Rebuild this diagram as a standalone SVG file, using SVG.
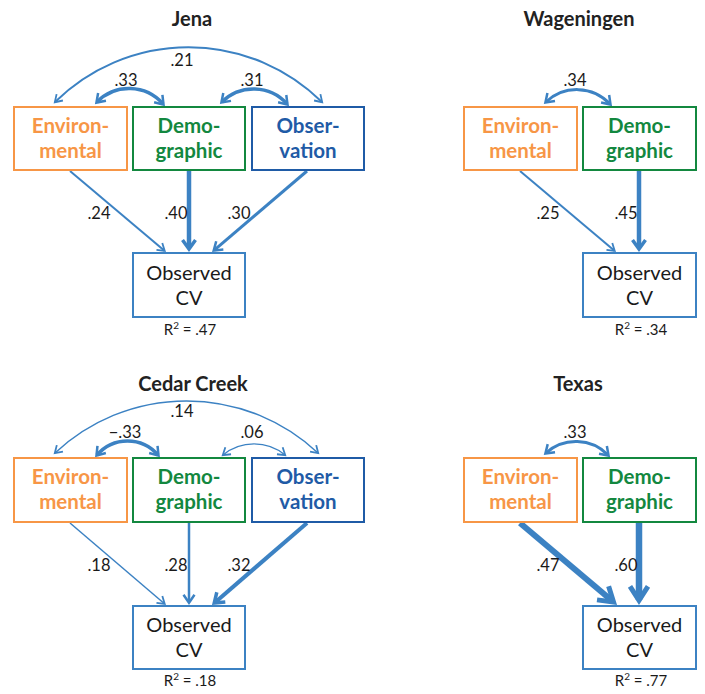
<svg xmlns="http://www.w3.org/2000/svg" width="705" height="694" viewBox="0 0 705 694">
<style>
text{font-family:Lato,"Liberation Sans",sans-serif;fill:#1a1a1a;text-anchor:middle}
.title{font-size:20px;font-weight:bold;fill:#222}
.lbl{font-size:20.5px;font-weight:bold}
.env rect{fill:#fff;stroke:#F79646;stroke-width:2}
.env text{fill:#F79646}
.dem rect{fill:#fff;stroke:#13883F;stroke-width:2}
.dem text{fill:#13883F}
.obs rect{fill:#fff;stroke:#1F5BA6;stroke-width:2}
.obs text{fill:#1F5BA6}
.cv rect{fill:#fff;stroke:#3C82C3;stroke-width:2}
.cv text{font-size:20px}
.cv text.r2{font-size:15px}
.num{font-size:16.5px}
.c path{fill:none;stroke:#3C82C3;stroke-linecap:butt}
.m{fill:none;stroke:#3C82C3;stroke-linejoin:miter}
</style>
<defs>
<marker id="ah1" markerUnits="userSpaceOnUse" orient="auto-start-reverse" refX="0" refY="0" markerWidth="20" markerHeight="20" overflow="visible"><path class="m" stroke-width="1.8" d="M-6.7,-4.5 L0.3,0 L-6.7,4.5"/></marker>
<marker id="ah2" markerUnits="userSpaceOnUse" orient="auto-start-reverse" refX="0" refY="0" markerWidth="20" markerHeight="20" overflow="visible"><path class="m" stroke-width="2.5" d="M-7.2,-5.5 L0.8,0 L-7.2,5.5"/></marker>
<marker id="ah3" markerUnits="userSpaceOnUse" orient="auto-start-reverse" refX="0" refY="0" markerWidth="20" markerHeight="20" overflow="visible"><path class="m" stroke-width="3.5" d="M-8,-6.5 L1,0 L-8,6.5"/></marker>
<marker id="ah4" markerUnits="userSpaceOnUse" orient="auto-start-reverse" refX="0" refY="0" markerWidth="30" markerHeight="30" overflow="visible"><path class="m" stroke-width="5" d="M-13.6,-9 L0.4,0 L-13.6,9"/></marker>
</defs>

<g id="titles">
<text class="title" x="192" y="26">Jena</text>
<text class="title" x="579" y="26">Wageningen</text>
<text class="title" x="193" y="391">Cedar Creek</text>
<text class="title" x="578" y="391">Texas</text>
</g>

<g id="connectors" class="c">
<!-- Jena -->
<path stroke-width="2" d="M55,102 A190,190 0 0 1 322,102" marker-start="url(#ah1)" marker-end="url(#ah1)"/>
<path stroke-width="3.5" d="M97,102 A45,45 0 0 1 163,104" marker-start="url(#ah2)" marker-end="url(#ah2)"/>
<path stroke-width="3.5" d="M222,102 A45,45 0 0 1 287,104" marker-start="url(#ah2)" marker-end="url(#ah2)"/>
<path stroke-width="2" d="M70,171 L164.5,250.7" marker-end="url(#ah1)"/>
<path stroke-width="4.5" d="M189,171 L189,248" marker-end="url(#ah3)"/>
<path stroke-width="3" d="M307,171 L214.3,250.1" marker-end="url(#ah2)"/>
<!-- Wageningen -->
<path stroke-width="3" d="M546,102 A45,45 0 0 1 610,104" marker-start="url(#ah2)" marker-end="url(#ah2)"/>
<path stroke-width="2" d="M520,171 L614.5,250.7" marker-end="url(#ah1)"/>
<path stroke-width="4.5" d="M639,171 L639,248" marker-end="url(#ah3)"/>
<!-- Cedar Creek -->
<path stroke-width="1.5" d="M55,453 A192,192 0 0 1 318,453" marker-start="url(#ah1)" marker-end="url(#ah1)"/>
<path stroke-width="3.5" d="M97,455 A40,40 0 0 1 158,455" marker-start="url(#ah2)" marker-end="url(#ah2)"/>
<path stroke-width="1.2" d="M223,455 A49,49 0 0 1 285,455" marker-start="url(#ah1)" marker-end="url(#ah1)"/>
<path stroke-width="1.5" d="M70,523 L164.5,603.7" marker-end="url(#ah1)"/>
<path stroke-width="2.5" d="M189,523 L189,602" marker-end="url(#ah2)"/>
<path stroke-width="4" d="M307,523 L215,602.4" marker-end="url(#ah3)"/>
<!-- Texas -->
<path stroke-width="3" d="M546,453 A45,45 0 0 1 608,455" marker-start="url(#ah2)" marker-end="url(#ah2)"/>
<path stroke-width="6" d="M520,523 L613.2,601.8" marker-end="url(#ah4)"/>
<path stroke-width="6.5" d="M639,523 L639,600" marker-end="url(#ah4)"/>
</g>

<g id="coef-labels">
<text class="num" x="182" y="66">.21</text>
<text class="num" x="126" y="86">.33</text>
<text class="num" x="252" y="86">.31</text>
<text class="num" x="99" y="219">.24</text>
<text class="num" x="176" y="219">.40</text>
<text class="num" x="239" y="219">.30</text>
<text class="num" x="575" y="86">.34</text>
<text class="num" x="548" y="219">.25</text>
<text class="num" x="626" y="219">.45</text>
<text class="num" x="182" y="417">.14</text>
<text class="num" x="125" y="438">−.33</text>
<text class="num" x="252" y="438">.06</text>
<text class="num" x="99" y="571">.18</text>
<text class="num" x="176" y="571">.28</text>
<text class="num" x="239" y="571">.32</text>
<text class="num" x="575" y="438">.33</text>
<text class="num" x="548" y="571">.47</text>
<text class="num" x="626" y="571">.60</text>
</g>

<!-- Jena nodes -->
<g id="jena-env" class="env"><rect x="14" y="107" width="113" height="63"/><text class="lbl" x="70.5" y="133">Environ-</text><text class="lbl" x="70.5" y="158">mental</text></g>
<g id="jena-dem" class="dem"><rect x="133" y="107" width="112" height="63"/><text class="lbl" x="189" y="133">Demo-</text><text class="lbl" x="189" y="158">graphic</text></g>
<g id="jena-obs" class="obs"><rect x="252" y="107" width="112" height="63"/><text class="lbl" x="308" y="133">Obser-</text><text class="lbl" x="308" y="158">vation</text></g>
<g id="jena-cv" class="cv"><rect x="133" y="253" width="112" height="64"/><text x="189" y="280">Observed</text><text x="189" y="305">CV</text><text class="r2" x="190" y="335">R<tspan dy="-6" font-size="10">2</tspan><tspan dy="6"> = .47</tspan></text></g>

<!-- Wageningen nodes -->
<g id="wag-env" class="env"><rect x="464" y="107" width="113" height="63"/><text class="lbl" x="520.5" y="133">Environ-</text><text class="lbl" x="520.5" y="158">mental</text></g>
<g id="wag-dem" class="dem"><rect x="583" y="107" width="113" height="63"/><text class="lbl" x="639.5" y="133">Demo-</text><text class="lbl" x="639.5" y="158">graphic</text></g>
<g id="wag-cv" class="cv"><rect x="583" y="253" width="113" height="64"/><text x="639.5" y="280">Observed</text><text x="639.5" y="305">CV</text><text class="r2" x="641" y="335">R<tspan dy="-6" font-size="10">2</tspan><tspan dy="6"> = .34</tspan></text></g>

<!-- Cedar Creek nodes -->
<g id="cc-env" class="env"><rect x="14" y="458" width="113" height="64"/><text class="lbl" x="70.5" y="484">Environ-</text><text class="lbl" x="70.5" y="509">mental</text></g>
<g id="cc-dem" class="dem"><rect x="133" y="458" width="112" height="64"/><text class="lbl" x="189" y="484">Demo-</text><text class="lbl" x="189" y="509">graphic</text></g>
<g id="cc-obs" class="obs"><rect x="252" y="458" width="112" height="64"/><text class="lbl" x="308" y="484">Obser-</text><text class="lbl" x="308" y="509">vation</text></g>
<g id="cc-cv" class="cv"><rect x="133" y="606" width="112" height="63"/><text x="189" y="632">Observed</text><text x="189" y="657">CV</text><text class="r2" x="190" y="686">R<tspan dy="-6" font-size="10">2</tspan><tspan dy="6"> = .18</tspan></text></g>

<!-- Texas nodes -->
<g id="tx-env" class="env"><rect x="464" y="458" width="113" height="64"/><text class="lbl" x="520.5" y="484">Environ-</text><text class="lbl" x="520.5" y="509">mental</text></g>
<g id="tx-dem" class="dem"><rect x="583" y="458" width="113" height="64"/><text class="lbl" x="639.5" y="484">Demo-</text><text class="lbl" x="639.5" y="509">graphic</text></g>
<g id="tx-cv" class="cv"><rect x="583" y="606" width="113" height="63"/><text x="639.5" y="632">Observed</text><text x="639.5" y="657">CV</text><text class="r2" x="641" y="686">R<tspan dy="-6" font-size="10">2</tspan><tspan dy="6"> = .77</tspan></text></g>
</svg>
